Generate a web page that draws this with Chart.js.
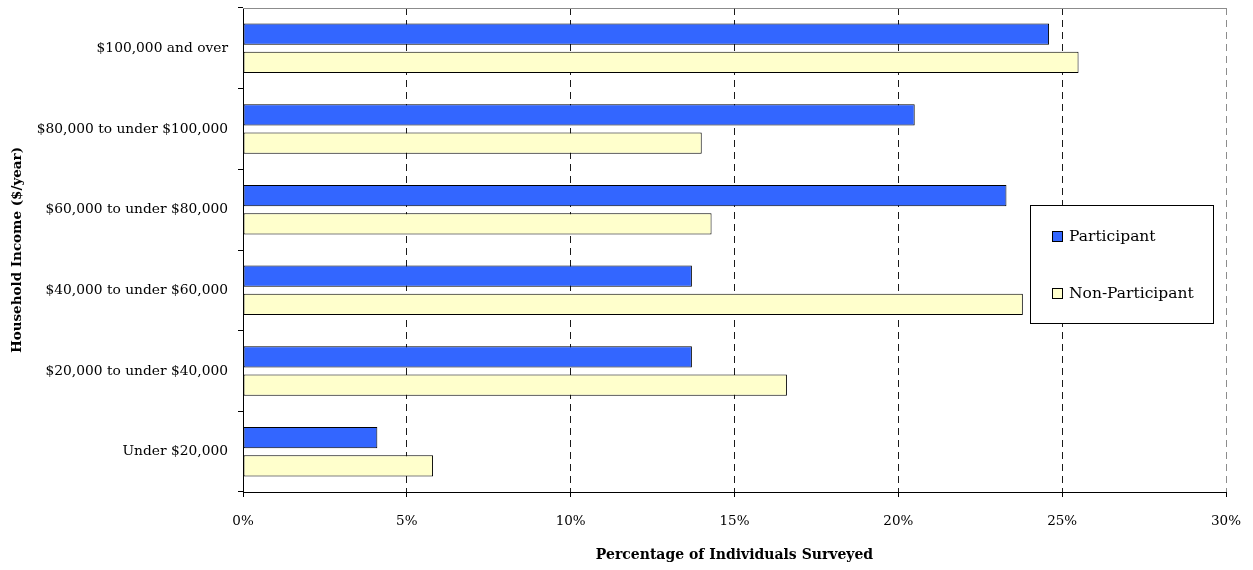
<!DOCTYPE html>
<html>
<head>
<meta charset="utf-8">
<script src="https://cdn.jsdelivr.net/npm/chart.js@4.4.1/dist/chart.umd.min.js"></script>
<style>
  html, body { margin: 0; padding: 0; background: #fff; }
  #wrap { width: 1253px; height: 570px; }
</style>
</head>
<body>
<div id="wrap"><canvas id="chart" width="1253" height="570"></canvas></div>
<script>
// Data
const incomeGroups = [
    '$100,000 and over',
    '$80,000 to under $100,000',
    '$60,000 to under $80,000',
    '$40,000 to under $60,000',
    '$20,000 to under $40,000',
    'Under $20,000'
];
const participant = [24.6, 20.5, 23.3, 13.7, 13.7, 4.1];
const nonParticipant = [25.5, 14.0, 14.3, 23.8, 16.6, 5.8];
const xTicks = [0, 5, 10, 15, 20, 25, 30];

const serif = '"DejaVu Serif", "Liberation Serif", serif';

// top frame line of the plot area
const framePlugin = {
    id: 'frame',
    beforeDatasetsDraw(chart) {
        const { ctx, chartArea } = chart;
        ctx.save();
        ctx.strokeStyle = '#8c8c8c';
        ctx.lineWidth = 1;
        ctx.beginPath();
        ctx.moveTo(chartArea.left, chartArea.top + 0.5);
        ctx.lineTo(chartArea.right, chartArea.top + 0.5);
        ctx.stroke();
        ctx.restore();
    }
};

// boxed legend inside the plot, like the original
const boxLegend = {
    id: 'boxLegend',
    afterDraw(chart) {
        const ctx = chart.ctx;
        const x = 1030, y = 205, w = 183, h = 118;
        ctx.save();
        ctx.fillStyle = '#fff';
        ctx.fillRect(x, y, w, h);
        ctx.strokeStyle = '#000';
        ctx.lineWidth = 1;
        ctx.strokeRect(x + 0.5, y + 0.5, w, h);
        ctx.font = '15.5px ' + serif;
        ctx.textBaseline = 'middle';
        chart.data.datasets.forEach((ds, i) => {
            const cy = 236 + i * 57;
            ctx.fillStyle = ds.backgroundColor;
            ctx.fillRect(1052, cy - 5, 11, 11);
            ctx.strokeStyle = '#000';
            ctx.strokeRect(1052.5, cy - 4.5, 10, 10);
            ctx.fillStyle = '#000';
            ctx.fillText(ds.label, 1069, cy + 1);
        });
        ctx.restore();
    }
};

const ctx = document.getElementById('chart').getContext('2d');
new Chart(ctx, {
    type: 'bar',
    data: {
        labels: incomeGroups,
        datasets: [{
            label: 'Participant',
            data: participant,
            backgroundColor: '#3366ff',
            borderColor: '#000',
            borderWidth: 1,
            borderSkipped: false
        }, {
            label: 'Non-Participant',
            data: nonParticipant,
            backgroundColor: '#ffffcc',
            borderColor: '#000',
            borderWidth: 1,
            borderSkipped: false
        }]
    },
    options: {
        indexAxis: 'y',
        responsive: false,
        animation: false,
        devicePixelRatio: 1,
        categoryPercentage: 0.7,
        barPercentage: 0.755,
        layout: { padding: { top: 8, right: 27, bottom: 0, left: 0 } },
        plugins: {
            legend: { display: false },
            tooltip: { enabled: false }
        },
        scales: {
            x: {
                min: 0,
                max: 30,
                afterBuildTicks(scale) {
                    scale.ticks = xTicks.map(v => ({ value: v }));
                },
                afterFit(scale) {
                    scale.height = 78;
                    scale.paddingLeft = 0;
                    scale.paddingRight = 0;
                },
                ticks: {
                    color: '#000',
                    padding: 16,
                    font: { family: serif, size: 13.5 },
                    callback: v => v + '%'
                },
                grid: {
                    color: c => c.tick && c.tick.value === 30 ? '#8c8c8c' : (c.tick && c.tick.value === 0 ? 'rgba(0,0,0,0)' : '#1a1a1a'),
                    tickColor: '#000',
                    tickLength: 5,
                    lineWidth: 1
                },
                border: { color: '#000', width: 1, dash: [7, 5] },
                title: {
                    display: true,
                    text: 'Percentage of Individuals Surveyed',
                    color: '#000',
                    font: { family: serif, size: 14, weight: 'bold' },
                    padding: { top: 6, bottom: 6 }
                }
            },
            y: {
                afterFit(scale) {
                    scale.width = 243;
                    scale.paddingTop = 0;
                    scale.paddingBottom = 0;
                },
                ticks: {
                    color: '#000',
                    padding: 10,
                    font: { family: serif, size: 13.8 }
                },
                grid: {
                    offset: true,
                    drawOnChartArea: false,
                    tickColor: '#000',
                    tickLength: 5
                },
                border: { color: '#000', width: 1 },
                title: {
                    display: true,
                    text: 'Household Income ($/year)',
                    color: '#000',
                    font: { family: serif, size: 13.5, weight: 'bold' },
                    padding: { top: 9, bottom: 9 }
                }
            }
        }
    },
    plugins: [framePlugin, boxLegend]
});
</script>
</body>
</html>
